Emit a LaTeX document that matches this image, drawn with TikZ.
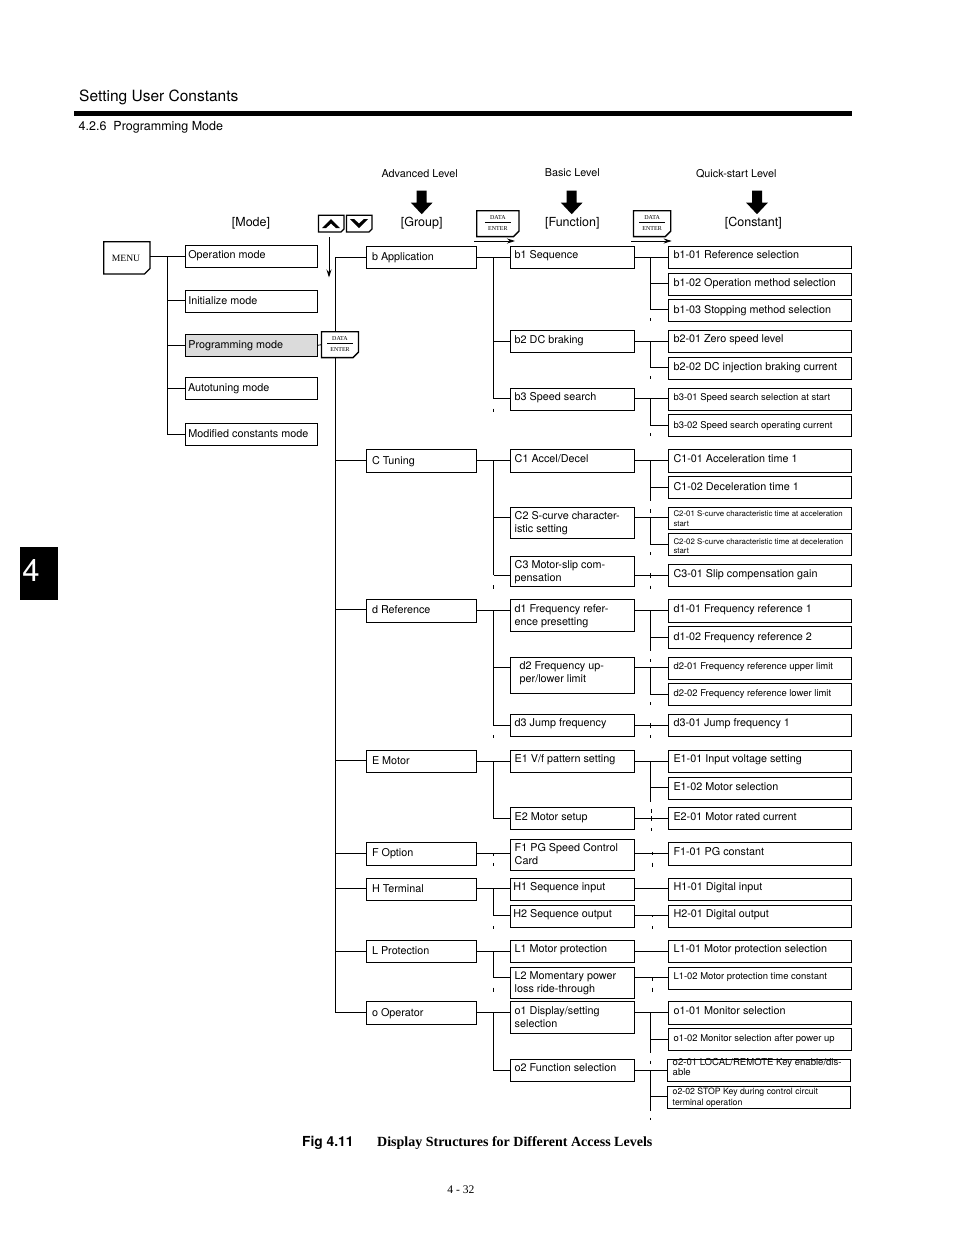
\documentclass[tikz,border=0pt]{standalone}
\usepackage{fontspec}
\setmainfont{TeX Gyre Heros}
\newfontfamily\serf{Liberation Serif}
\usetikzlibrary{arrows.meta}
\tikzset{
  x=1pt,y=-1pt,
  box/.style={draw=black,line width=0.8pt,inner sep=0pt,outer sep=0pt},
  tn/.style={inner sep=0pt,outer sep=0pt,align=left,font=\fontsize{10.8}{13}\selectfont},
  tq/.style={tn,font=\fontsize{9.45}{13}\selectfont},
  ts/.style={tn,font=\fontsize{7.86}{9.3}\selectfont},
  to2/.style={tn,font=\fontsize{9.55}{10}\selectfont},
  to3/.style={tn,font=\fontsize{8.73}{11}\selectfont},
  wire/.style={line width=0.8pt,line cap=butt},
  keyline/.style={draw=black,line width=1.3pt,line join=miter,fill=white},
  lab/.style={inner sep=0pt,font=\fontsize{10.8}{13}\selectfont},
  head/.style={inner sep=0pt,font=\fontsize{12.5}{14}\selectfont},
  tinyserif/.style={inner sep=0pt,font=\serf\fontsize{6}{7}\selectfont},
  bigfill/.style={fill=black,draw=none},
  thin arrow/.style={line width=0.8pt,-{Stealth[length=8pt,width=5pt]}},
}
\newcommand\bx[9][tn]{%
  \pgfmathsetmacro\mywd{#5-#3}\pgfmathsetmacro\myht{#6-#4}\pgfmathsetmacro\mybl{#8-9}%
  \node[box,anchor=north west,minimum width=\mywd pt,minimum height=\myht pt] (#2) at (#3,#4) {};
  \node[#1,anchor=north west] (#2-t) at (#7,\mybl) {\rule{0pt}{9pt}#9};
}
\newcommand\gb[5][0]{\bx{#2}{366.3}{#3}{476.7}{#4}{372}{#3+13.7+#1}{#5}}
\newcommand\fb[5][0]{\bx{#2}{510.3}{#3}{634.7}{#4}{514.7}{#3+12+#1}{#5}}
\newcommand\cb[6][tn]{\bx[#1]{#2}{668.3}{#3}{851.3}{#4}{673.5}{#3+12+#5}{#6}}
\newcommand\vb[4]{\coordinate (#1-a) at (#2,#3); \coordinate (#1-b) at (#2,#4); \draw[wire] (#1-a) -- (#1-b);}
\newcommand\ct[3]{\draw[wire] (#1.east |- 0,#3) -- (#2.west |- 0,#3);}
\newcommand\br[3]{\draw[wire] (#1-a |- 0,#3) -- (#2.west |- 0,#3);}
\newcommand\keyshape[5]{%
  \pgfmathsetmacro\mywd{#4-#2}\pgfmathsetmacro\myht{#5-#3}%
  \pgfmathsetmacro\mycx{#4-5.5}\pgfmathsetmacro\mycy{#5-5.5}%
  \node[anchor=north west,minimum width=\mywd pt,minimum height=\myht pt,inner sep=0pt,outer sep=0pt] (#1) at (#2,#3) {};
  \draw[keyline] (#2,#3) -- (#4,#3) -- (#4,\mycy) -- (\mycx,#5) -- (#2,#5) -- cycle;
}
\newcommand\datakey[5]{%
  \keyshape{#1}{#2}{#3}{#4}{#5}
  \node[tinyserif] (#1-d) at ([yshift=6.2pt]#1.center) {DATA};
  \node[tinyserif] (#1-e) at ([yshift=-5pt]#1.center) {ENTER};
  \draw[line width=0.6pt] ([xshift=-13pt,yshift=1.2pt]#1.center) -- ([xshift=13pt,yshift=1.2pt]#1.center);
}
\newcommand\bigarrow[2]{%
  \coordinate (#1) at (#2,190.7);
  \fill[bigfill] ([xshift=-5pt]#1) -- ([xshift=5pt]#1) -- ([xshift=5pt,yshift=-12pt]#1) -- ([xshift=10.8pt,yshift=-12pt]#1) -- ([yshift=-23.5pt]#1) -- ([xshift=-10.8pt,yshift=-12pt]#1) -- ([xshift=-5pt,yshift=-12pt]#1) -- cycle;
}
\newcount\tkn
\newcommand\tick[3]{\global\advance\tkn by 1 \coordinate (tk\the\tkn a) at (#1,#2); \coordinate (tk\the\tkn b) at (#1,#3); \draw[wire] (tk\the\tkn a) -- (tk\the\tkn b);}
\begin{document}
\begin{tikzpicture}
\path[use as bounding box] (0,0) rectangle (954,1235);
% header
\node[anchor=base west,inner sep=0pt,font=\fontsize{15.5}{18}\selectfont] (title) at (79,101) {Setting User Constants};
\fill (74,111) rectangle (852,116);
\node[anchor=base west,inner sep=0pt,font=\fontsize{12.5}{14}\selectfont] (sec) at (78.5,130) {4.2.6\ \ Programming Mode};
\fill (20,547) rectangle (58,600);
\node[text=white,inner sep=0pt,font=\fontsize{31}{34}\selectfont] (tab) at (31,571) {4};
% level labels
\node[lab] (adv) at (419.7,173.3) {Advanced Level};
\node[lab] (bas) at (572.3,172.3) {Basic Level};
\node[lab] (qui) at (736.3,173.3) {Quick-start Level};
\bigarrow{a1}{421.7}\bigarrow{a2}{571.7}\bigarrow{a3}{757}
\node[head] (hm) at (251,223.5) {[Mode]};
\node[head] (hg) at (421.7,223.5) {[Group]};
\node[head] (hf) at (572.3,223.5) {[Function]};
\node[head] (hc) at (753.3,223.5) {[Constant]};
% keys
\keyshape{menu}{103.8}{241.8}{150}{274}
\node[inner sep=0pt,font=\serf\fontsize{9.6}{11}\selectfont] (menu-t) at (126,258) {MENU};
\datakey{k0}{321.5}{331.8}{358.5}{357.6}
\datakey{k1}{476.8}{210.8}{519}{236.6}
\datakey{k2}{633.5}{210.8}{670.8}{236.6}
% arrow keys
\coordinate (upk) at (331,223.5); \coordinate (dnk) at (359,223.5);
\draw[keyline,line width=1.2pt] (318.5,215.3) -- (344,215.3) -- (344,229) -- (341,232) -- (318.5,232) -- cycle;
\draw[keyline,line width=1.2pt] (346.5,215.3) -- (372,215.3) -- (372,229) -- (369,232) -- (346.5,232) -- cycle;
\fill ([xshift=-9pt,yshift=-4.5pt]upk) -- ([yshift=4.5pt]upk) -- ([xshift=9pt,yshift=-4.5pt]upk) -- ([xshift=5pt,yshift=-4.5pt]upk) -- ([yshift=0pt]upk) -- ([xshift=-5pt,yshift=-4.5pt]upk) -- cycle;
\fill ([xshift=-9pt,yshift=4.5pt]dnk) -- ([yshift=-4.5pt]dnk) -- ([xshift=9pt,yshift=4.5pt]dnk) -- ([xshift=5pt,yshift=4.5pt]dnk) -- ([yshift=0pt]dnk) -- ([xshift=-5pt,yshift=4.5pt]dnk) -- cycle;
\coordinate (ua) at (329,237.3); \coordinate (ub) at (329,277.5);
\draw[thin arrow] (ua) -- (ub);
\coordinate (a1a) at (474.3,241); \coordinate (a1b) at (515,241);
\draw[thin arrow] (a1a) -- (a1b);
\coordinate (a2a) at (631,241); \coordinate (a2b) at (671.7,241);
\draw[thin arrow] (a2a) -- (a2b);
% modes
\bx{m1}{185.3}{245}{317.5}{267.3}{188.3}{258.3}{Operation mode}
\bx{m2}{185.3}{290.3}{317.5}{312.3}{188.3}{304.3}{Initialize mode}
\node[box,fill=black!14,anchor=north west,minimum width=132.2pt,minimum height=22pt] (m3) at (185.3,334.3) {};
\node[tn,anchor=north west] (m3-t) at (188.3,339.3) {\rule{0pt}{9pt}Programming mode};
\bx{m4}{185.3}{377.3}{317.5}{399.3}{188}{391.3}{Autotuning mode}
\bx{m5}{185.3}{423.3}{317.5}{445.3}{188.3}{437.3}{Modified constants mode}
\vb{vm}{167.3}{256.5}{434.3}
\ct{menu}{m1}{256.5}
\br{vm}{m2}{300.3}
\br{vm}{m3}{345.3}
\br{vm}{m4}{388.3}
\br{vm}{m5}{434.3}
\draw[wire] (m3.east) -- (k0.west);
% group boxes
\gb{gb}{246.3}{268.3}{b Application}
\gb[1]{gc}{449.3}{472.3}{C Tuning}
\gb{gd}{599.3}{622.3}{d Reference}
\gb{ge}{750.3}{772.3}{E Motor}
\gb{gf}{842.3}{865.3}{F Option}
\gb{gh}{878.3}{900.3}{H Terminal}
\gb{gl}{940.3}{962.3}{L Protection}
\gb[1]{go}{1001.3}{1024.3}{o Operator}
\coordinate (va-a) at (335.3,257); \coordinate (va-k) at (335.3,331.8);
\draw[wire] (va-a) -- (va-k);
\vb{vg}{335.3}{357.6}{1012.3}
\draw[wire] (va-a) -- (gb.west |- va-a);
\br{vg}{gc}{460.3}
\br{vg}{gd}{609.3}
\br{vg}{ge}{760.3}
\br{vg}{gf}{853.3}
\br{vg}{gh}{888.3}
\br{vg}{gl}{951.3}
\br{vg}{go}{1012.3}
% function boxes
\fb{b1}{246.3}{268.3}{b1 Sequence}
\fb[1]{b2}{330.3}{352.3}{b2 DC braking}
\fb{b3}{388.3}{410.3}{b3 Speed search}
\fb[1]{c1}{449.3}{472.3}{C1 Accel/Decel}
\fb{c2}{507.3}{538.3}{C2 S-curve character-\\istic setting}
\fb{c3}{556.3}{586.3}{C3 Motor-slip com-\\pensation}
\fb[1]{d1}{599.3}{631.3}{d1 Frequency refer-\\ence presetting}
\bx{d2}{510.3}{657.3}{634.7}{693.3}{519.7}{669.5}{d2 Frequency up-\\per/lower limit}
\fb{d3}{714.3}{736.3}{d3 Jump frequency}
\fb{e1}{750.3}{772.3}{E1 V/f pattern setting}
\fb[1]{e2}{807.3}{829.3}{E2 Motor setup}
\fb{f1}{839.3}{870.3}{F1 PG Speed Control\\Card}
\bx{h1}{510.3}{878.3}{634.7}{900.3}{513.3}{890.3}{H1 Sequence input}
\bx{h2}{510.3}{905.3}{634.7}{927.3}{513.3}{917.3}{H2 Sequence output}
\fb{l1}{940.3}{962.3}{L1 Motor protection}
\fb{l2}{967.3}{998.3}{L2 Momentary power\\loss ride-through}
\fb[1]{o1}{1001.3}{1033.3}{o1 Display/setting\\selection}
\fb{o2}{1059.3}{1081.3}{o2 Function selection}
% constants
\cb{b101}{246.3}{268.3}{0}{b1-01 Reference selection}
\cb{b102}{273.3}{295.3}{1.5}{b1-02 Operation method selection}
\cb{b103}{299.3}{321.3}{2}{b1-03 Stopping method selection}
\cb{b201}{330.3}{352.3}{0.5}{b2-01 Zero speed level}
\cb{b202}{357.3}{379.3}{1.5}{b2-02 DC injection braking current}
\cb[tq]{b301}{388.3}{410.3}{0.5}{b3-01 Speed search selection at start}
\cb[tq]{b302}{414.3}{436.3}{2}{b3-02 Speed search operating current}
\cb{c101}{449.3}{472.3}{1}{C1-01 Acceleration time 1}
\cb{c102}{476.3}{498.3}{2}{C1-02 Deceleration time 1}
\bx[ts]{c201}{668.3}{507.3}{851.3}{529.3}{673.5}{516.7}{C2-01 S-curve characteristic time at acceleration\\start}
\bx[ts]{c202}{668.3}{533.7}{851.3}{555.3}{673.5}{544.1}{C2-02 S-curve characteristic time at deceleration\\start}
\cb{c301}{564.3}{586.3}{1}{C3-01 Slip compensation gain}
\cb{d101}{599.3}{622.3}{1}{d1-01 Frequency reference 1}
\cb{d102}{626.3}{648.3}{2}{d1-02 Frequency reference 2}
\cb[tq]{d201}{657.3}{679.3}{0}{d2-01 Frequency reference upper limit}
\cb[tq]{d202}{683.3}{705.3}{1.5}{d2-02 Frequency reference lower limit}
\cb{d301}{714.3}{736.3}{0}{d3-01 Jump frequency 1}
\cb{e101}{750.3}{772.3}{0}{E1-01 Input voltage setting}
\cb{e102}{777.3}{799.3}{1.5}{E1-02 Motor selection}
\cb{e201}{807.3}{829.3}{1}{E2-01 Motor rated current}
\cb{f101}{842.3}{865.3}{1}{F1-01 PG constant}
\cb{h101}{878.3}{900.3}{0}{H1-01 Digital input}
\cb{h201}{905.3}{927.3}{0}{H2-01 Digital output}
\cb{l101}{940.3}{962.3}{0}{L1-01 Motor protection selection}
\cb[tq]{l102}{967.3}{989.3}{0}{L1-02 Motor protection time constant}
\cb{o101}{1001.3}{1024.3}{1}{o1-01 Monitor selection}
\cb[tq]{o102}{1028.3}{1050.3}{1}{o1-02 Monitor selection after power up}
\bx[to2]{o201}{667.3}{1059.3}{850.7}{1081.3}{672.7}{1065.7}{o2-01 LOCAL/REMOTE Key enable/dis-\\able}
\bx[to3]{o202}{667.3}{1086.3}{850.7}{1108.3}{672.7}{1094}{o2-02 STOP Key during control circuit\\terminal operation}
% group-function buses
\ct{gb}{b1}{257.3}
\vb{s1}{493.7}{257.3}{398.7}
\br{s1}{b2}{341.7}
\br{s1}{b3}{398.7}
\tick{493.7}{408.5}{412}
\ct{gc}{c1}{460.3}
\vb{s2}{493.7}{460.3}{575}
\br{s2}{c2}{517.3}
\br{s2}{c3}{575}
\tick{493.7}{585.3}{588.7}
\ct{gd}{d1}{610.3}
\vb{s3}{493.7}{610.3}{725.7}
\br{s3}{d2}{667.3}
\br{s3}{d3}{725.7}
\tick{493.7}{735}{738}
\ct{ge}{e1}{761.3}
\vb{s4}{493.7}{761.3}{818.7}
\br{s4}{e2}{818.7}
\ct{gf}{f1}{853.3}
\tick{493.7}{853.3}{856}
\tick{493.7}{863}{866}
\ct{gh}{h1}{888.3}
\vb{s5}{493.7}{888.3}{915.7}
\br{s5}{h2}{915.7}
\tick{493.7}{926}{929}
\ct{gl}{l1}{951.3}
\vb{s6}{493.7}{951.3}{977.7}
\br{s6}{l2}{977.7}
\tick{493.7}{987.7}{991.7}
\ct{go}{o1}{1012.3}
\vb{s7}{493.7}{1012.3}{1070.7}
\br{s7}{o2}{1070.7}
% function-constant buses
\ct{b1}{b101}{257.3}
\vb{t1}{650.3}{257.3}{309.7}
\br{t1}{b102}{283.3}
\br{t1}{b103}{309.7}
\tick{650.3}{318.3}{321.3}
\ct{b2}{b201}{341.7}
\vb{t2}{650.3}{341.7}{367}
\br{t2}{b202}{367}
\tick{650.3}{376}{379}
\ct{b3}{b301}{398.7}
\vb{t3}{650.3}{398.7}{425}
\br{t3}{b302}{425}
\tick{650.3}{433.3}{436.3}
\ct{c1}{c101}{460.3}
\vb{t4}{650.3}{460.3}{501}
\br{t4}{c102}{487.3}
\tick{650.3}{509.3}{512.7}
\ct{c2}{c201}{517.3}
\vb{t5}{650.3}{517.3}{544.7}
\br{t5}{c202}{544.7}
\tick{650.3}{552.3}{555.3}
\ct{c3}{c301}{575.3}
\tick{650.3}{573}{577.5}
\tick{650.3}{585.7}{588.7}
\ct{d1}{d101}{610.3}
\vb{t6}{650.3}{610.3}{651}
\br{t6}{d102}{637.3}
\tick{650.3}{659}{662}
\ct{d2}{d201}{667.3}
\vb{t7}{650.3}{667.3}{694.3}
\br{t7}{d202}{694.3}
\tick{650.3}{702.3}{705.3}
\ct{d3}{d301}{725.7}
\tick{650.3}{723.3}{728.3}
\tick{650.3}{735}{738}
\ct{e1}{e101}{761.3}
\vb{t8}{650.3}{761.3}{801.7}
\br{t8}{e102}{787.3}
\tick{651.3}{809.3}{812.7}
\ct{e2}{e201}{818.7}
\tick{651.3}{816.3}{821.3}
\tick{651.3}{828.3}{831.3}
\ct{f1}{f101}{853.3}
\tick{652.3}{851.7}{855.3}
\tick{652.3}{862.7}{866.7}
\ct{h1}{h101}{888.3}
\ct{h2}{h201}{915.3}
\tick{652.3}{915}{917}
\tick{652.3}{926}{929}
\ct{l1}{l101}{951.3}
\ct{l2}{l102}{977.7}
\tick{652.3}{977.7}{981}
\tick{652.3}{987.7}{991.7}
\ct{o1}{o101}{1012.3}
\vb{t9}{650.3}{1012.3}{1052.7}
\br{t9}{o102}{1039.3}
\tick{650.3}{1060.7}{1064}
\ct{o2}{o201}{1070.7}
\vb{t10}{650.3}{1070.7}{1110.7}
\br{t10}{o202}{1096}
\tick{650.3}{1117.7}{1120}
% caption
\node[anchor=base west,inner sep=0pt,font=\bfseries\fontsize{13.8}{16}\selectfont] (fig) at (302,1146) {Fig 4.11};
\node[anchor=base west,inner sep=0pt,font=\serf\bfseries\fontsize{14}{16}\selectfont] (cap) at (377,1146) {Display Structures for Different Access Levels};
\node[inner sep=0pt,font=\serf\fontsize{11.6}{13}\selectfont] (pg) at (461,1190) {4 - 32};
\end{tikzpicture}
\end{document}
